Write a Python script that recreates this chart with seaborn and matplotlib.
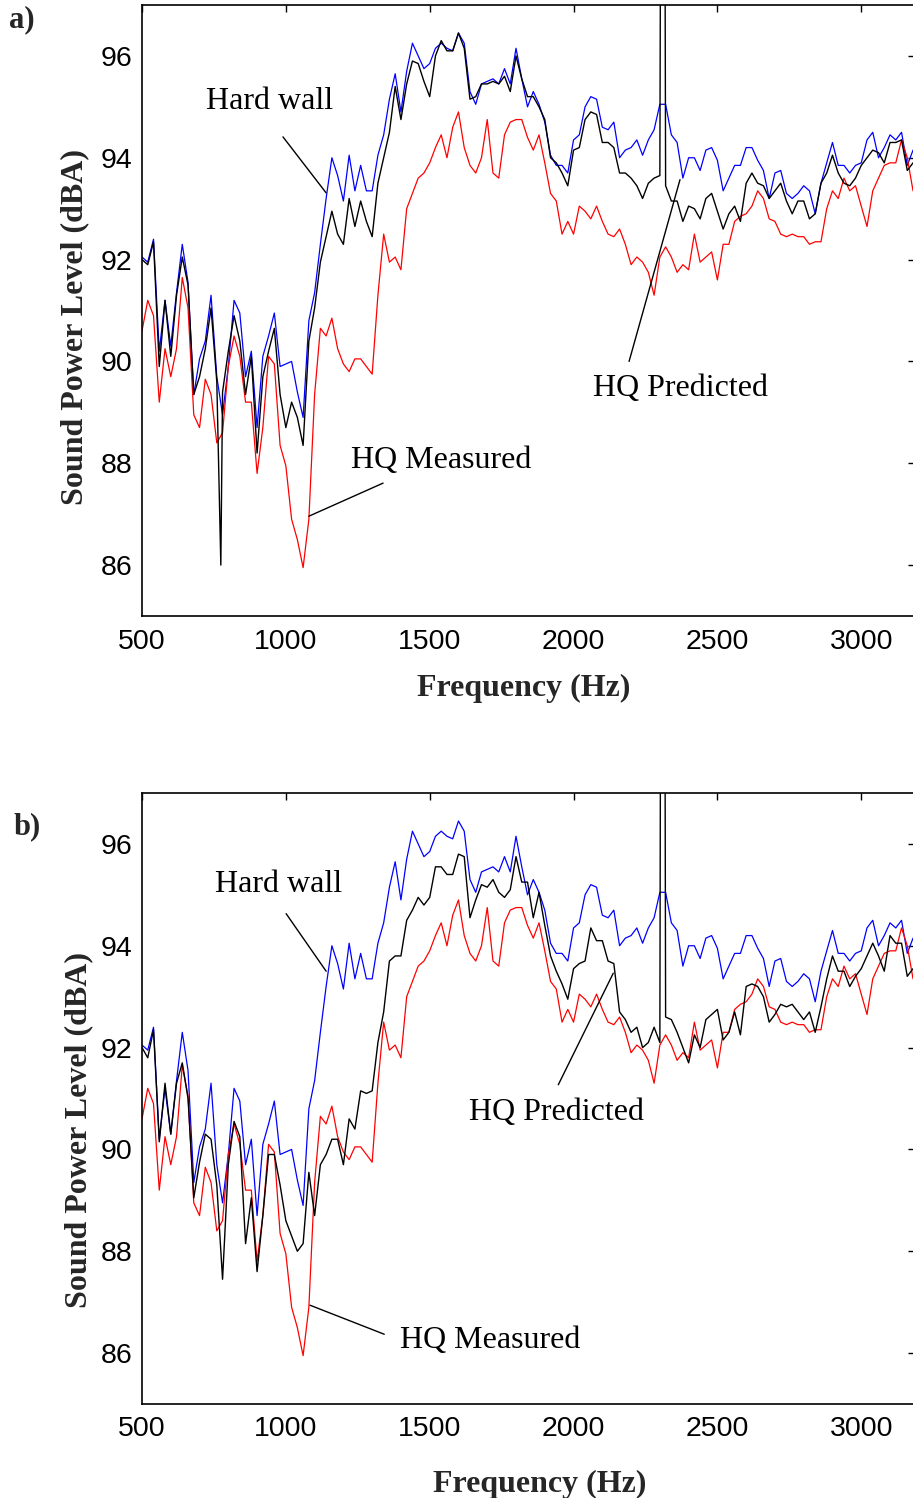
import numpy as np
import pandas as pd
import matplotlib
matplotlib.use("Agg")
import matplotlib.pyplot as plt
import seaborn as sns

# ---------------- data ----------------
freq = np.arange(500, 3181, 20)  # Hz, 20 Hz grid

hard_wall = [
    92.05, 91.95, 92.4, 90.2, 91.2, 90.3, 91.35, 92.3, 91.55, 89.35,
    90.05, 90.4, 91.3, 89.7, 88.95, 89.9, 91.2, 90.95, 89.7, 90.2,
    88.7, 90.1, 90.5, 90.95, 89.9, 89.95, 90.0, 89.4, 88.9, 90.8,
    91.35, 92.3, 93.2, 94.0, 93.65, 93.15, 94.05, 93.35, 93.85, 93.35,
    93.35, 94.05, 94.45, 95.15, 95.65, 94.9, 95.7, 96.25, 96.0, 95.75,
    95.85, 96.15, 96.25, 96.15, 96.1, 96.45, 96.25, 95.3, 95.05, 95.45,
    95.5, 95.55, 95.45, 95.75, 95.45, 96.15, 95.55, 95.0, 95.3, 95.05,
    94.7, 94.05, 93.85, 93.85, 93.7, 94.35, 94.45, 95.0, 95.2, 95.15,
    94.6, 94.55, 94.7, 94.0, 94.15, 94.2, 94.35, 94.05, 94.35, 94.55,
    95.05, 95.05, 94.45, 94.3, 93.6, 94.0, 94.0, 93.75, 94.15, 94.2,
    93.95, 93.35, 93.6, 93.85, 93.85, 94.2, 94.2, 93.95, 93.75, 93.2,
    93.7, 93.75, 93.3, 93.2, 93.3, 93.45, 93.35, 92.9, 93.5, 93.9,
    94.3, 93.85, 93.85, 93.7, 93.85, 93.9, 94.35, 94.5, 94.0, 94.2,
    94.45, 94.35, 94.5, 93.85, 94.15,
]

hq_measured = [
    90.6, 91.2, 90.9, 89.2, 90.25, 89.7, 90.25, 91.65, 91.05, 88.95,
    88.7, 89.65, 89.35, 88.4, 88.6, 89.9, 90.5, 90.1, 89.2, 89.2,
    87.8, 88.7, 90.1, 89.95, 88.35, 87.95, 86.9, 86.5, 85.95, 86.9,
    89.35, 90.65, 90.5, 90.85, 90.25, 89.95, 89.8, 90.05, 90.05, 89.9,
    89.75, 91.3, 92.5, 91.95, 92.05, 91.8, 93.0, 93.3, 93.6, 93.7,
    93.9, 94.2, 94.45, 94.0, 94.6, 94.9, 94.2, 93.85, 93.7, 94.0,
    94.75, 93.7, 93.6, 94.45, 94.7, 94.75, 94.75, 94.4, 94.15, 94.45,
    93.9, 93.3, 93.15, 92.5, 92.75, 92.5, 93.05, 92.95, 92.8, 93.05,
    92.75, 92.5, 92.45, 92.6, 92.3, 91.9, 92.05, 91.95, 91.75, 91.3,
    92.05, 92.25, 92.05, 91.75, 91.9, 91.8, 92.5, 91.95, 92.05, 92.15,
    91.6, 92.3, 92.3, 92.75, 92.85, 92.9, 93.05, 93.35, 93.2, 92.8,
    92.75, 92.5, 92.45, 92.5, 92.45, 92.45, 92.3, 92.35, 92.35, 93.0,
    93.35, 93.2, 93.6, 93.35, 93.45, 93.05, 92.65, 93.35, 93.6, 93.85,
    93.9, 93.9, 94.35, 94.0, 93.35,
]

hq_predicted_a = [
    92.0, 91.9, 92.35, 89.9, 91.2, 90.1, 91.3, 92.05, 91.5, 89.35,
    89.7, 90.25, 91.05, 89.6, 89.4, 90.2, 90.9, 90.4, 89.35, 90.1,
    88.2, 89.7, 90.2, 90.65, 89.35, 88.7, 89.2, 88.9, 88.35, 90.4,
    91.05, 91.95, 92.45, 92.95, 92.5, 92.3, 93.2, 92.65, 93.15, 92.75,
    92.45, 93.5, 94.0, 94.5, 95.4, 94.75, 95.45, 95.9, 95.85, 95.5,
    95.2, 96.0, 96.3, 96.1, 96.1, 96.45, 96.15, 95.15, 95.2, 95.45,
    95.45, 95.5, 95.45, 95.6, 95.3, 96.0, 95.55, 95.2, 95.2, 95.0,
    94.75, 94.0, 93.9, 93.7, 93.45, 94.15, 94.2, 94.75, 94.9, 94.85,
    94.3, 94.3, 94.2, 93.7, 93.7, 93.6, 93.45, 93.2, 93.5, 93.6,
    93.65, 93.45, 93.15, 93.15, 92.75, 93.05, 93.0, 92.8, 93.2, 93.3,
    92.95, 92.6, 92.9, 93.05, 92.75, 93.5, 93.7, 93.5, 93.45, 93.2,
    93.35, 93.5, 93.15, 92.9, 93.15, 93.15, 92.8, 92.9, 93.5, 93.7,
    94.05, 93.7, 93.5, 93.45, 93.6, 93.85, 94.0, 94.15, 94.1, 93.9,
    94.3, 94.3, 94.35, 93.75, 93.9,
]

hq_predicted_b = [
    92.0, 91.8, 92.35, 90.15, 91.3, 90.3, 91.3, 91.7, 91.0, 89.05,
    89.75, 90.3, 90.2, 89.3, 87.45, 89.7, 90.55, 90.25, 88.15, 89.05,
    87.6, 88.7, 89.9, 89.9, 89.3, 88.6, 88.3, 88.0, 88.15, 89.55,
    88.7, 89.7, 89.9, 90.2, 90.2, 89.7, 90.6, 90.4, 91.15, 91.1,
    91.15, 92.1, 92.7, 93.7, 93.8, 93.8, 94.5, 94.7, 94.95, 94.8,
    94.95, 95.55, 95.55, 95.4, 95.4, 95.8, 95.75, 94.55, 94.9, 95.2,
    95.15, 95.3, 95.05, 94.95, 95.1, 95.75, 95.25, 95.25, 94.55, 95.05,
    94.4, 93.8, 93.5, 93.25, 92.95, 93.55, 93.65, 93.7, 94.35, 94.1,
    94.1, 93.7, 93.65, 92.7, 92.55, 92.3, 92.4, 92.0, 92.1, 92.4,
    92.1, 92.6, 92.55, 92.3, 92.0, 91.7, 92.25, 92.0, 92.55, 92.65,
    92.75, 92.15, 92.3, 92.7, 92.25, 93.2, 93.25, 93.2, 93.0, 92.5,
    92.65, 92.85, 92.8, 92.85, 92.7, 92.55, 92.7, 92.3, 92.8, 93.35,
    93.8, 93.5, 93.5, 93.2, 93.4, 93.55, 93.8, 94.05, 93.8, 93.5,
    94.2, 94.05, 94.05, 93.4, 93.55,
]

# narrow features of the predicted curves (off-grid samples)
spike_a_freq = [774, 2302, 2318]
spike_a_val = [86.0, 98.0, 98.0]
spike_b_freq = [2302, 2318]
spike_b_val = [98.0, 98.0]

x_ticks = [500, 1000, 1500, 2000, 2500, 3000]
y_ticks = [86, 88, 90, 92, 94, 96]

# ---------------- style ----------------
sns.set_theme(style="white")
plt.rcParams["font.family"] = ["Liberation Sans", "DejaVu Sans"]
plt.rcParams["axes.edgecolor"] = "black"
plt.rcParams["axes.linewidth"] = 1.2

SERIF = ["Liberation Serif", "DejaVu Serif"]

W, H = 913, 1498
fig = plt.figure(figsize=(W / 100, H / 100), dpi=100)
fig.patch.set_facecolor("white")

LEFT_PX, RIGHT_PX, H_PX = 142, 915, 611


def make_axes(top_px):
    return fig.add_axes([LEFT_PX / W, 1 - (top_px + H_PX) / H,
                         (RIGHT_PX - LEFT_PX) / W, H_PX / H])


ax_a = make_axes(5)
ax_b = make_axes(793)

# (axes, predicted, extra f, extra v, xlabel pad, xlabel x, ylabel coords)
panels = [
    (ax_a, hq_predicted_a, spike_a_freq, spike_a_val, 14, 0.494, (-0.068, 0.473)),
    (ax_b, hq_predicted_b, spike_b_freq, spike_b_val, 20, 0.515, (-0.063, 0.448)),
]

for ax, pred, sf, sv, xpad, xlx, ylc in panels:
    df_hw = pd.DataFrame({"f": freq, "v": hard_wall})
    df_me = pd.DataFrame({"f": freq, "v": hq_measured})
    df_pr = pd.DataFrame({"f": np.concatenate([freq, sf]),
                          "v": np.concatenate([pred, sv])}).sort_values("f")
    sns.lineplot(data=df_hw, x="f", y="v", ax=ax, color=(0, 0, 1), lw=0.9)
    sns.lineplot(data=df_me, x="f", y="v", ax=ax, color=(1, 0, 0), lw=0.9)
    sns.lineplot(data=df_pr, x="f", y="v", ax=ax, color="black", lw=1.0,
                 sort=False)

    ax.set_xlim(500, 500 + (RIGHT_PX - LEFT_PX) / 0.2877)
    ax.set_ylim(85, 97)
    ax.set_xticks(x_ticks)
    ax.set_yticks(y_ticks)
    ax.tick_params(direction="in", length=5, width=1, top=True, right=True,
                   labelsize=20.5, colors="black")
    ax.tick_params(axis="x", pad=9)
    ax.tick_params(axis="y", pad=7)
    for s in ax.spines.values():
        s.set_visible(True)
        s.set_color("black")
        s.set_linewidth(1.2)
    ax.set_xlabel("Frequency (Hz)", fontfamily=SERIF, fontweight="bold",
                  fontsize=23, labelpad=xpad)
    ax.xaxis.label.set_x(xlx)
    ax.set_ylabel("Sound Power Level (dBA)", fontfamily=SERIF,
                  fontweight="bold", fontsize=23)
    ax.yaxis.set_label_coords(*ylc)

# annotations: (text, text centre, leader start, leader end)
ann_a = [
    ("Hard wall", (945, 95.1), (990, 94.41), (1140, 93.31)),
    ("HQ Measured", (1539, 88.06), (1338, 87.61), (1080, 86.96)),
    ("HQ Predicted", (2373, 89.47), (2193, 90.0), (2370, 93.57)),
]
ann_b = [
    ("Hard wall", (973, 95.2), (1001, 94.63), (1140, 93.5)),
    ("HQ Measured", (1710, 86.25), (1342, 86.37), (1084, 86.94)),
    ("HQ Predicted", (1940, 90.73), (1947, 91.27), (2138, 93.46)),
]
for ax, anns in [(ax_a, ann_a), (ax_b, ann_b)]:
    for txt, c, p0, p1 in anns:
        ax.text(c[0], c[1], txt, fontfamily=SERIF, fontsize=23,
                ha="center", va="center", color="black")
        ax.annotate("", xy=p1, xytext=p0,
                    arrowprops=dict(arrowstyle="-", color="black", lw=1.0,
                                    shrinkA=0, shrinkB=0))

fig.text(9 / W, 1 - 20 / H, "a)", fontfamily=SERIF, fontweight="bold",
         fontsize=22, ha="left", va="center")
fig.text(14 / W, 1 - 827 / H, "b)", fontfamily=SERIF, fontweight="bold",
         fontsize=22, ha="left", va="center")

fig.savefig("out.png", dpi=100, facecolor="white")
